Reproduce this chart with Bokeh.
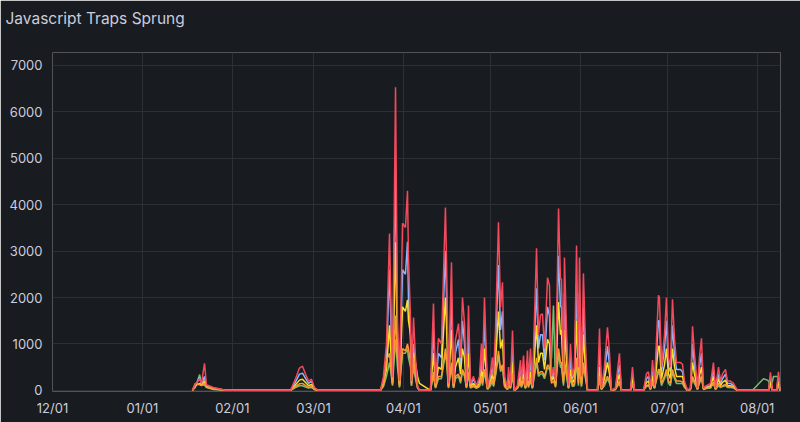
import pandas as pd
from bokeh.plotting import figure
from bokeh.models import Range1d, FixedTicker, DatetimeTickFormatter, ColumnDataSource
from bokeh.embed import file_html
from bokeh.resources import INLINE

title_text = "Javascript Traps Sprung"

timestamps = [
    "2023-01-18 06:00", "2023-01-19 06:00", "2023-01-20 18:00", "2023-01-21 09:00", "2023-01-22 10:00",
    "2023-01-23 02:00", "2023-01-25 12:00", "2023-01-29 16:00",
    "2023-02-21 02:00", "2023-02-22 19:00", "2023-02-24 04:00", "2023-02-25 05:00", "2023-02-26 06:00",
    "2023-02-27 07:00", "2023-02-28 07:00", "2023-03-01 08:00", "2023-03-02 17:00",
    "2023-03-24 02:00", "2023-03-25 03:00", "2023-03-26 04:00", "2023-03-27 05:00", "2023-03-28 06:00",
    "2023-03-29 07:00", "2023-03-29 23:00", "2023-03-30 16:00", "2023-03-31 17:00", "2023-04-01 17:00",
    "2023-04-02 10:00", "2023-04-02 18:00", "2023-04-03 11:00", "2023-04-03 19:00", "2023-04-04 12:00",
    "2023-04-05 04:00", "2023-04-05 21:00", "2023-04-06 13:00", "2023-04-10 08:00", "2023-04-11 09:00",
    "2023-04-12 02:00", "2023-04-13 02:00", "2023-04-14 03:00", "2023-04-15 12:00", "2023-04-15 21:00",
    "2023-04-16 13:00", "2023-04-17 14:00", "2023-04-18 07:00", "2023-04-18 23:00", "2023-04-20 00:00",
    "2023-04-20 17:00", "2023-04-21 09:00", "2023-04-22 02:00", "2023-04-22 18:00", "2023-04-23 11:00",
    "2023-04-24 03:00", "2023-04-25 04:00", "2023-04-26 05:00", "2023-04-27 06:00", "2023-04-27 22:00",
    "2023-04-28 07:00", "2023-04-28 23:00", "2023-04-30 00:00", "2023-05-01 01:00", "2023-05-01 17:00",
    "2023-05-02 02:00", "2023-05-02 18:00", "2023-05-03 19:00", "2023-05-04 12:00", "2023-05-05 04:00",
    "2023-05-05 21:00", "2023-05-06 22:00", "2023-05-07 06:00", "2023-05-07 22:00", "2023-05-08 15:00",
    "2023-05-09 07:00", "2023-05-10 08:00", "2023-05-11 09:00", "2023-05-11 17:00", "2023-05-12 10:00",
    "2023-05-13 02:00", "2023-05-13 19:00", "2023-05-14 03:00", "2023-05-14 20:00", "2023-05-15 12:00",
    "2023-05-16 22:00", "2023-05-17 14:00", "2023-05-18 07:00", "2023-05-18 23:00", "2023-05-19 16:00",
    "2023-05-20 17:00", "2023-05-21 09:00", "2023-05-22 02:00", "2023-05-22 18:00", "2023-05-23 11:00",
    "2023-05-24 12:00", "2023-05-25 04:00", "2023-05-25 12:00", "2023-05-26 05:00", "2023-05-26 13:00",
    "2023-05-27 06:00", "2023-05-27 22:00", "2023-05-28 15:00", "2023-05-29 07:00", "2023-05-30 00:00",
    "2023-05-30 17:00", "2023-05-31 09:00", "2023-05-31 17:00", "2023-06-01 10:00", "2023-06-02 02:00",
    "2023-06-02 19:00", "2023-06-03 12:00", "2023-06-06 22:00", "2023-06-07 15:00", "2023-06-08 07:00",
    "2023-06-09 08:00", "2023-06-10 09:00", "2023-06-11 02:00", "2023-06-11 18:00", "2023-06-13 03:00",
    "2023-06-14 12:00", "2023-06-15 05:00", "2023-06-18 07:00", "2023-06-19 00:00", "2023-06-19 17:00",
    "2023-06-22 19:00", "2023-06-23 20:00", "2023-06-24 12:00", "2023-06-25 05:00", "2023-06-25 22:00",
    "2023-06-26 14:00", "2023-06-27 23:00", "2023-06-28 07:00", "2023-06-29 00:00", "2023-06-30 01:00",
    "2023-06-30 17:00", "2023-07-01 10:00", "2023-07-02 02:00", "2023-07-02 19:00", "2023-07-03 12:00",
    "2023-07-04 04:00", "2023-07-05 13:00", "2023-07-06 06:00", "2023-07-06 22:00", "2023-07-07 23:00",
    "2023-07-09 00:00", "2023-07-09 17:00", "2023-07-10 09:00", "2023-07-11 10:00", "2023-07-12 02:00",
    "2023-07-12 19:00", "2023-07-13 12:00", "2023-07-14 12:00", "2023-07-15 22:00", "2023-07-16 22:00",
    "2023-07-17 15:00", "2023-07-18 16:00", "2023-07-19 08:00", "2023-07-20 01:00", "2023-07-21 02:00",
    "2023-07-21 18:00", "2023-07-22 19:00", "2023-07-23 20:00", "2023-07-25 05:00", "2023-07-30 09:00",
    "2023-08-03 04:00", "2023-08-04 13:00", "2023-08-04 22:00", "2023-08-05 14:00", "2023-08-06 07:00",
    "2023-08-06 15:00", "2023-08-07 16:00", "2023-08-08 08:00", "2023-08-08 17:00", "2023-08-09 01:00",
]

red = [
    0, 130, 250, 150, 580, 120, 60, 0,
    0, 250, 480, 520, 350, 200, 240, 60, 0,
    0, 300, 1000, 3380, 280, 6530, 1500, 200, 3600, 3510,
    4300, 2860, 1570, 200, 1570, 700, 100, 0, 0, 1870,
    150, 1120, 1000, 3940, 2800, 150, 2760, 150, 1080, 1440,
    700, 2000, 1440, 150, 1830, 150, 300, 100, 300, 1010,
    400, 2000, 60, 400, 710, 300, 1290, 3620, 1790, 2330,
    300, 50, 500, 100, 1290, 0, 100, 650, 200, 750,
    100, 860, 200, 900, 100, 3060, 1200, 1620, 1650, 900,
    2430, 2260, 300, 500, 200, 3920, 2400, 2400, 400, 2860,
    1300, 100, 1000, 300, 500, 3120, 500, 2860, 300, 2520,
    1000, 0, 0, 1330, 50, 500, 1360, 790, 0, 50,
    800, 0, 0, 500, 0, 0, 360, 400, 50, 650,
    100, 2050, 2000, 500, 1200, 2000, 700, 500, 1960, 1100,
    600, 600, 560, 200, 0, 50, 1380, 800, 50, 700,
    1120, 50, 100, 150, 600, 50, 500, 200, 350, 450,
    200, 200, 150, 0, 0, 0, 0, 0, 390, 0,
    0, 0, 400, 150, 0,
]

blue = [
    0, 90, 280, 130, 300, 90, 40, 0,
    0, 180, 350, 370, 260, 150, 200, 40, 0,
    0, 200, 700, 2600, 200, 4800, 1100, 150, 2600, 2500,
    3200, 2000, 1100, 150, 1000, 500, 80, 0, 0, 1300,
    100, 800, 700, 3000, 2000, 100, 2000, 100, 800, 1100,
    500, 1500, 1000, 100, 1300, 100, 250, 80, 250, 700,
    300, 1500, 50, 300, 500, 250, 950, 2700, 1300, 1700,
    250, 40, 350, 80, 900, 0, 80, 500, 150, 550,
    80, 600, 150, 650, 80, 2200, 900, 1200, 1200, 650,
    1800, 1600, 250, 400, 150, 2900, 1800, 1800, 300, 2100,
    950, 80, 700, 250, 400, 2300, 400, 2100, 250, 1800,
    700, 0, 0, 900, 40, 350, 950, 550, 0, 40,
    550, 0, 0, 350, 0, 0, 250, 300, 40, 450,
    80, 1500, 1500, 400, 900, 1500, 500, 400, 1400, 800,
    450, 450, 400, 150, 0, 40, 1000, 550, 40, 500,
    800, 40, 80, 100, 450, 40, 350, 150, 250, 350,
    150, 150, 100, 0, 0, 0, 0, 0, 280, 0,
    0, 0, 280, 100, 0,
]

yellow = [
    0, 100, 150, 110, 200, 80, 50, 0,
    0, 120, 220, 240, 170, 100, 130, 30, 0,
    0, 150, 450, 1400, 150, 3190, 800, 100, 1800, 1700,
    1950, 1500, 1200, 300, 800, 600, 300, 150, 0, 800,
    80, 500, 450, 2000, 1400, 80, 1300, 80, 500, 700,
    350, 900, 700, 80, 800, 80, 150, 60, 150, 450,
    200, 900, 40, 200, 350, 150, 600, 1700, 900, 1100,
    150, 30, 250, 60, 600, 0, 60, 300, 100, 350,
    60, 400, 100, 400, 60, 1400, 600, 800, 800, 450,
    1100, 1000, 200, 300, 100, 1900, 1200, 1300, 200, 1300,
    650, 60, 450, 150, 250, 1500, 250, 1300, 150, 1200,
    450, 0, 0, 500, 30, 250, 600, 350, 0, 30,
    350, 0, 0, 250, 0, 0, 170, 200, 30, 300,
    60, 950, 950, 250, 550, 900, 350, 250, 900, 500,
    300, 300, 300, 100, 0, 30, 600, 350, 30, 300,
    500, 30, 60, 80, 300, 30, 250, 100, 170, 220,
    100, 100, 80, 0, 0, 0, 0, 0, 180, 0,
    0, 0, 180, 60, 0,
]

orange = [
    0, 150, 120, 100, 150, 70, 30, 0,
    0, 80, 140, 150, 100, 60, 90, 20, 0,
    0, 100, 650, 800, 120, 1610, 700, 80, 900, 850,
    1000, 900, 600, 100, 700, 300, 60, 0, 0, 400,
    60, 300, 300, 900, 700, 60, 600, 60, 300, 350,
    200, 450, 350, 60, 400, 60, 100, 50, 100, 300,
    150, 450, 30, 150, 250, 100, 350, 850, 450, 550,
    100, 20, 150, 50, 350, 0, 50, 200, 80, 250,
    50, 250, 80, 250, 50, 700, 350, 400, 400, 300,
    550, 500, 150, 200, 80, 900, 600, 600, 150, 650,
    350, 50, 300, 100, 150, 700, 150, 650, 100, 600,
    300, 0, 0, 300, 20, 150, 300, 200, 0, 20,
    200, 0, 0, 150, 0, 0, 100, 120, 20, 180,
    50, 450, 450, 150, 300, 450, 200, 150, 450, 300,
    200, 200, 180, 80, 0, 20, 300, 200, 20, 200,
    300, 20, 50, 60, 180, 20, 150, 80, 100, 130,
    80, 80, 60, 0, 0, 0, 0, 0, 100, 0,
    0, 0, 100, 40, 0,
]

green = [
    0, 60, 340, 120, 110, 60, 20, 0,
    0, 60, 100, 100, 70, 50, 60, 20, 0,
    0, 80, 300, 600, 100, 1100, 500, 60, 800, 800,
    900, 700, 500, 100, 500, 250, 50, 0, 0, 300,
    50, 250, 250, 800, 600, 50, 500, 50, 250, 300,
    150, 400, 300, 50, 350, 50, 80, 40, 80, 250,
    100, 400, 20, 100, 200, 80, 300, 750, 400, 500,
    80, 20, 100, 40, 300, 0, 40, 150, 60, 200,
    40, 200, 60, 200, 40, 600, 300, 350, 350, 250,
    500, 450, 700, 1830, 60, 800, 500, 500, 100, 550,
    300, 40, 250, 80, 100, 600, 100, 550, 80, 500,
    250, 0, 0, 200, 20, 100, 250, 150, 0, 20,
    150, 0, 0, 100, 0, 0, 80, 100, 20, 150,
    40, 400, 400, 100, 250, 400, 150, 100, 400, 250,
    150, 150, 150, 60, 0, 20, 250, 150, 20, 150,
    250, 20, 40, 50, 150, 20, 100, 60, 80, 100,
    60, 60, 50, 0, 0, 250, 220, 200, 80, 200,
    300, 300, 280, 0, 0,
]

month_ticks = ["2022-12-01", "2023-01-01", "2023-02-01", "2023-03-01", "2023-04-01",
               "2023-05-01", "2023-06-01", "2023-07-01", "2023-08-01"]
y_ticks = [0, 1000, 2000, 3000, 4000, 5000, 6000, 7000]
x_start, x_end = "2022-12-01 00:00", "2023-08-09 01:00"
y_start, y_end = -25, 7280

series = [
    ("green", green, "#73BF69"),
    ("blue", blue, "#8AB8FF"),
    ("yellow", yellow, "#FADE2A"),
    ("orange", orange, "#FF9830"),
    ("red", red, "#F2495C"),
]

BG = "#181b1f"
TXT = "#ccccdc"
GRID = "#2c2f35"

times = pd.to_datetime(timestamps)
data = {"t": times}
for name, vals, _ in series:
    data[name] = vals
src = ColumnDataSource(data)

p = figure(width=800, height=422, x_axis_type="datetime",
           x_range=Range1d(pd.Timestamp(x_start), pd.Timestamp(x_end)),
           y_range=Range1d(y_start, y_end),
           output_backend="svg", toolbar_location=None,
           background_fill_color=BG, border_fill_color=BG,
           min_border_left=52, min_border_right=20, min_border_top=52, min_border_bottom=31)
p.outline_line_color = None

# trailing blank line lifts the title towards the top of the panel
p.title.text = title_text + "\n"
p.title.align = "left"
p.title.text_font = "Inter"
p.title.text_font_size = "15.5px"
p.title.text_font_style = "normal"
p.title.text_color = TXT
p.title.offset = -47
p.title.standoff = 11

for name, vals, color in series:
    p.line("t", name, source=src, line_color=color, line_width=1.5)

month_ms = [pd.Timestamp(m).value // 10**6 for m in month_ticks]
p.xaxis.ticker = FixedTicker(ticks=month_ms)
p.xaxis.formatter = DatetimeTickFormatter(months="%m/%d", days="%m/%d")
p.yaxis.ticker = FixedTicker(ticks=y_ticks)

for ax in (p.xaxis, p.yaxis):
    ax.axis_line_color = None
    ax.major_tick_line_color = None
    ax.minor_tick_line_color = None
    ax.major_tick_out = 0
    ax.major_tick_in = 0
    ax.minor_tick_out = 0
    ax.minor_tick_in = 0
    ax.axis_label_standoff = 0
    ax.major_label_text_font = "Inter"
    ax.major_label_text_font_size = "13px"
    ax.major_label_text_color = TXT
p.xaxis.major_label_standoff = 8
p.yaxis.major_label_standoff = 10

p.xgrid.grid_line_color = GRID
p.ygrid.grid_line_color = GRID
p.xgrid.ticker = FixedTicker(ticks=month_ms)
p.ygrid.ticker = FixedTicker(ticks=y_ticks)

open("out.html", "w").write(file_html(p, INLINE))
